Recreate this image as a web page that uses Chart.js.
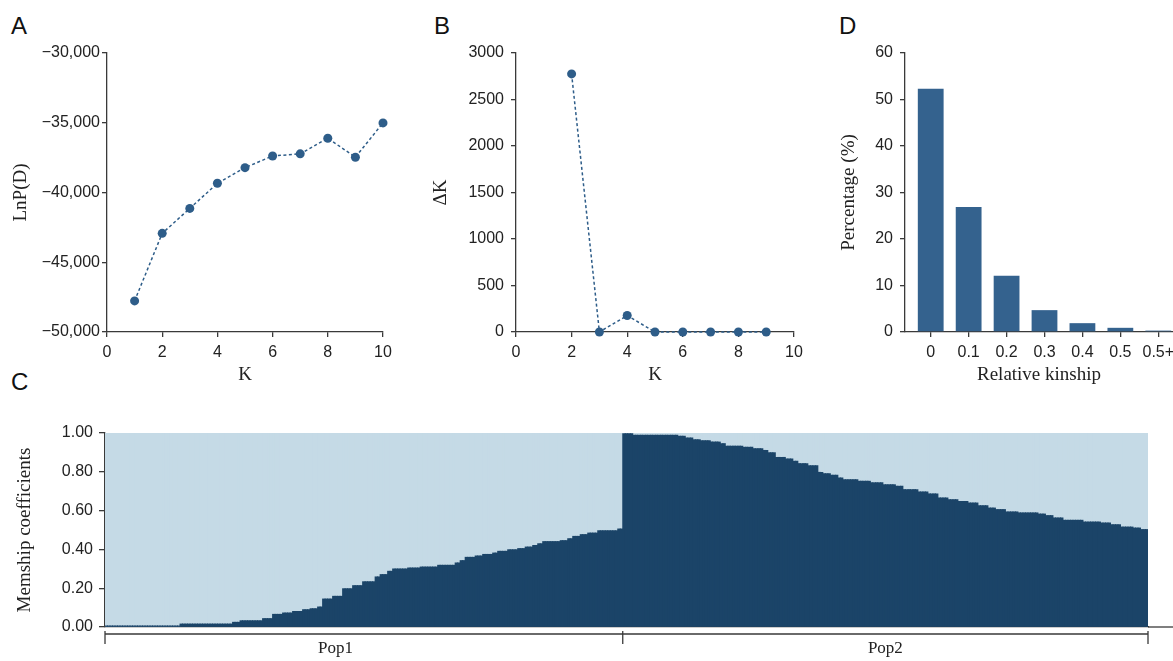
<!DOCTYPE html>
<html><head><meta charset="utf-8">
<script src="https://cdn.jsdelivr.net/npm/chart.js@4.4.1/dist/chart.umd.min.js"></script>
<style>
html,body{margin:0;padding:0;background:#fff;}
body{width:1173px;height:661px;position:relative;overflow:hidden;}
canvas{position:absolute;}
.lbl{position:absolute;font-family:"Liberation Sans",Arial,sans-serif;font-size:24px;line-height:24px;color:#111;}
</style></head><body>
<div class="lbl" style="left:11px;top:14px">A</div>
<div class="lbl" style="left:434px;top:14px">B</div>
<div class="lbl" style="left:839px;top:14px">D</div>
<div class="lbl" style="left:11px;top:370px">C</div>
<canvas id="cA"></canvas>
<canvas id="cB"></canvas>
<canvas id="cD"></canvas>
<canvas id="cC"></canvas>
<script>
// ---------- data ----------
const kA = [1, 2, 3, 4, 5, 6, 7, 8, 9, 10];
const lnPD = [-47770, -42930, -41140, -39340, -38220, -37380, -37230, -36110, -37470, -35010];
const kB = [2, 3, 4, 5, 6, 7, 8, 9];
const deltaK = [2775, 0, 177, 0, 0, 0, 0, 0];
const kinshipLabels = ['0', '0.1', '0.2', '0.3', '0.4', '0.5', '0.5+'];
const kinshipPct = [52.3, 26.9, 12.1, 4.7, 1.9, 0.9, 0.3];
// membership coefficient (dark cluster), as runs of equal-valued individuals
const pop1Values = [0.005, 0.015, 0.024, 0.032, 0.043, 0.065, 0.072, 0.080, 0.089, 0.094, 0.103, 0.144, 0.158, 0.197, 0.213, 0.233, 0.258, 0.270, 0.287, 0.299, 0.304, 0.309, 0.318, 0.330, 0.342, 0.359, 0.366, 0.374, 0.381, 0.390, 0.398, 0.404, 0.412, 0.420, 0.429, 0.440, 0.445, 0.455, 0.467, 0.476, 0.484, 0.496, 0.505];
const pop1Counts = [30, 21, 3, 9, 4, 4, 4, 4, 3, 3, 2, 4, 4, 4, 4, 5, 2, 3, 2, 6, 5, 7, 7, 2, 2, 4, 3, 4, 2, 4, 4, 3, 3, 2, 2, 7, 3, 2, 3, 3, 4, 8, 2];
const pop2Values = [0.996, 0.988, 0.983, 0.974, 0.965, 0.960, 0.953, 0.945, 0.932, 0.926, 0.919, 0.910, 0.898, 0.874, 0.866, 0.854, 0.842, 0.831, 0.797, 0.790, 0.782, 0.768, 0.759, 0.751, 0.743, 0.733, 0.725, 0.708, 0.696, 0.686, 0.665, 0.656, 0.647, 0.639, 0.625, 0.613, 0.605, 0.593, 0.588, 0.582, 0.574, 0.562, 0.550, 0.541, 0.536, 0.527, 0.515, 0.510, 0.502];
const pop2Counts = [4, 18, 3, 3, 3, 4, 4, 2, 7, 4, 4, 2, 3, 4, 3, 2, 4, 4, 2, 3, 3, 2, 6, 5, 5, 5, 3, 6, 4, 4, 4, 4, 4, 4, 4, 3, 4, 5, 8, 3, 3, 4, 8, 7, 4, 4, 5, 3, 3];
const popNames = ['Pop1', 'Pop2'];

// ---------- styles ----------
const SANS = '"Liberation Sans", Arial, sans-serif';
const SERIF = '"Liberation Serif", "Times New Roman", serif';
const AXIS = '#3a3a3a';
const TXT = '#222';
const PT = '#2e5d89';
const BAR = '#34628e';
const DARK = '#1b4468';
const LIGHT = '#c5dae6';
const TICKFONT = {family: SANS, size: 16};
const TITLEFONT = {family: SERIF, size: 19};

function place(id, left, top, w, h) {
  const c = document.getElementById(id);
  c.width = w; c.height = h;
  c.style.left = left + 'px'; c.style.top = top + 'px';
  c.style.width = w + 'px'; c.style.height = h + 'px';
  return c;
}
function gridOpts(len) {
  return {display: true, drawOnChartArea: false, drawTicks: true, tickLength: len, color: AXIS, lineWidth: 1.3, offset: false};
}
const border = {display: true, color: AXIS, width: 1.3};
const baseOpts = (pad) => ({
  responsive: false, animation: false, events: [],
  layout: {autoPadding: false, padding: pad},
  plugins: {legend: {display: false}, tooltip: {enabled: false}}
});
const fixX = h => s => { s.height = h; s.paddingLeft = 0; s.paddingRight = 0; };
const fixY = w => s => { s.width = w; s.paddingTop = 0; s.paddingBottom = 0; };
const minus = v => (v < 0 ? '\u2212' : '') + Math.abs(v).toLocaleString('en-US');

// ---------- Panel A ----------
new Chart(place('cA', 0, 0, 400, 390), {
  type: 'line',
  data: {datasets: [{
    data: kA.map((k, i) => ({x: k, y: lnPD[i]})),
    borderColor: PT, backgroundColor: PT, borderWidth: 1.5, borderDash: [3, 2.5],
    pointRadius: 4.5, pointBorderWidth: 0, pointBackgroundColor: PT, clip: false
  }]},
  options: Object.assign(baseOpts({left: 0, top: 53, right: 17, bottom: 0}), {
    scales: {
      x: {type: 'linear', min: 0, max: 10, afterFit: fixX(58),
        grid: gridOpts(5), border,
        ticks: {stepSize: 2, padding: 6, maxRotation: 0, color: TXT, font: TICKFONT},
        title: {display: true, text: 'K', color: TXT, font: TITLEFONT, padding: {top: 0, bottom: 4}}},
      y: {type: 'linear', min: -50000, max: -30000, afterFit: fixY(107),
        grid: gridOpts(5), border,
        ticks: {stepSize: 5000, padding: 2, color: TXT, font: TICKFONT, callback: v => minus(v)},
        title: {display: true, text: 'LnP(D)', color: TXT, font: TITLEFONT, padding: {top: 10, bottom: 0}}}
    }
  })
});

// ---------- Panel B ----------
new Chart(place('cB', 420, 0, 400, 390), {
  type: 'line',
  data: {datasets: [{
    data: kB.map((k, i) => ({x: k, y: deltaK[i]})),
    borderColor: PT, backgroundColor: PT, borderWidth: 1.5, borderDash: [3, 2.5],
    pointRadius: 4.5, pointBorderWidth: 0, pointBackgroundColor: PT, clip: false
  }]},
  options: Object.assign(baseOpts({left: 0, top: 53, right: 26, bottom: 0}), {
    scales: {
      x: {type: 'linear', min: 0, max: 10, afterFit: fixX(58),
        grid: gridOpts(5), border,
        ticks: {stepSize: 2, padding: 6, maxRotation: 0, color: TXT, font: TICKFONT},
        title: {display: true, text: 'K', color: TXT, font: TITLEFONT, padding: {top: 0, bottom: 4}}},
      y: {type: 'linear', min: 0, max: 3000, afterFit: fixY(96),
        grid: gridOpts(5), border,
        ticks: {stepSize: 500, padding: 7, color: TXT, font: TICKFONT, callback: v => String(v)},
        title: {display: true, text: '\u0394K', color: TXT, font: TITLEFONT, padding: {top: 10, bottom: 0}}}
    }
  })
});

// ---------- Panel D ----------
new Chart(place('cD', 828, 0, 345, 390), {
  type: 'bar',
  data: {datasets: [{
    data: kinshipPct.map((v, i) => ({x: i, y: v})),
    backgroundColor: BAR, borderWidth: 0, barPercentage: 0.68, categoryPercentage: 1
  }]},
  options: Object.assign(baseOpts({left: 0, top: 53, right: 0, bottom: 0}), {
    scales: {
      x: {type: 'linear', offset: false, min: -0.678, max: 6.388, afterFit: fixX(58),
        afterBuildTicks: s => { s.ticks = kinshipLabels.map((_, i) => ({value: i})); },
        grid: gridOpts(5), border,
        ticks: {padding: 6, maxRotation: 0, minRotation: 0, autoSkip: false, color: TXT, font: TICKFONT, callback: v => kinshipLabels[v]},
        title: {display: true, text: 'Relative kinship', color: TXT, font: TITLEFONT, padding: {top: 0, bottom: 4}}},
      y: {type: 'linear', min: 0, max: 60, afterFit: fixY(77),
        grid: gridOpts(5), border,
        ticks: {stepSize: 10, padding: 7, color: TXT, font: TICKFONT},
        title: {display: true, text: 'Percentage (%)', color: TXT, font: TITLEFONT, padding: {top: 10, bottom: 0}}}
    }
  })
});

// ---------- Panel C ----------
function expand(values, counts) {
  const out = [];
  values.forEach((v, i) => { for (let j = 0; j < counts[i]; j++) out.push(v); });
  return out;
}
const pop1 = expand(pop1Values, pop1Counts);
const pop2 = expand(pop2Values, pop2Counts);
const darkShare = pop1.concat(pop2);
const lightShare = darkShare.map(v => +(1 - v).toFixed(4));
const individuals = darkShare.map((_, i) => String(i + 1));

const popBracket = {
  id: 'popBracket',
  afterDraw(chart) {
    const {ctx, chartArea: a, scales: {x}} = chart;
    const half = (x.getPixelForValue(1) - x.getPixelForValue(0)) / 2;
    const xL = x.getPixelForValue(0) - half;
    const xM = x.getPixelForValue(pop1.length) - half;
    const xR = x.getPixelForValue(darkShare.length - 1) + half;
    ctx.save();
    ctx.strokeStyle = AXIS; ctx.lineWidth = 1.3;
    ctx.beginPath(); ctx.moveTo(a.right, a.bottom); ctx.lineTo(chart.width, a.bottom); ctx.stroke();
    const yb = a.bottom + 7;
    ctx.beginPath();
    ctx.moveTo(xL, yb); ctx.lineTo(xR, yb);
    [xL, xM, xR].forEach(px => { ctx.moveTo(px, yb - 3); ctx.lineTo(px, yb + 10); });
    ctx.stroke();
    ctx.fillStyle = TXT; ctx.font = '17px ' + SERIF;
    ctx.textAlign = 'center'; ctx.textBaseline = 'middle';
    ctx.fillText(popNames[0], xL + (xM - xL) * 0.445, a.bottom + 22);
    ctx.fillText(popNames[1], xM + (xR - xM) * 0.5, a.bottom + 22);
    ctx.restore();
  }
};

new Chart(place('cC', 0, 400, 1173, 261), {
  type: 'bar',
  data: {labels: individuals, datasets: [
    {data: darkShare, backgroundColor: DARK, borderWidth: 0, barPercentage: 1, categoryPercentage: 1, inflateAmount: 0.5},
    {data: lightShare, backgroundColor: LIGHT, borderWidth: 0, barPercentage: 1, categoryPercentage: 1, inflateAmount: 0.5}
  ]},
  plugins: [popBracket],
  options: Object.assign(baseOpts({left: 0, top: 33, right: 25, bottom: 0}), {
    scales: {
      x: {type: 'category', stacked: true, afterFit: fixX(34),
        grid: {display: false}, border, ticks: {display: false}},
      y: {type: 'linear', stacked: true, min: 0, max: 1, afterFit: fixY(105),
        grid: gridOpts(6), border,
        ticks: {stepSize: 0.2, padding: 6, color: TXT, font: TICKFONT, callback: v => v.toFixed(2)},
        title: {display: true, text: 'Memship coefficients', color: TXT, font: TITLEFONT, padding: {top: 14, bottom: 0}}}
    }
  })
});
</script>
</body></html>
